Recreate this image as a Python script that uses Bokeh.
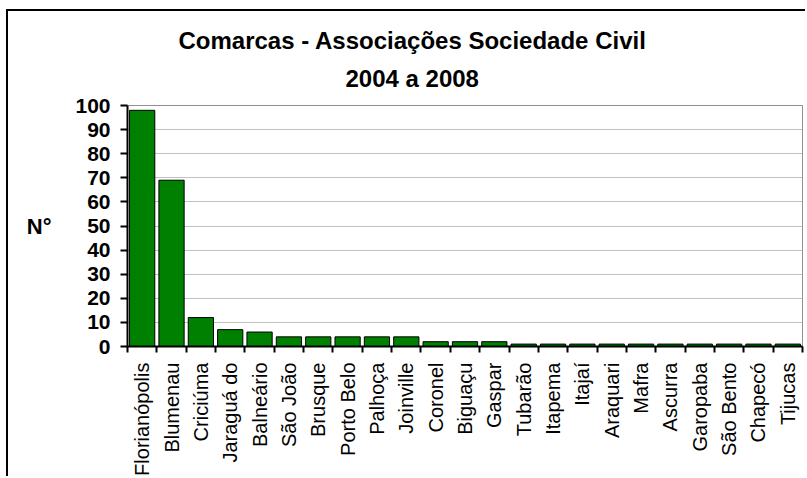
import math
from bokeh.plotting import figure
from bokeh.models import FixedTicker, Range1d, ColumnDataSource, Title
from bokeh.embed import file_html
from bokeh.resources import INLINE

# ---- data ----
comarcas = ["Florianópolis", "Blumenau", "Criciúma", "Jaraguá do", "Balneário",
            "São João", "Brusque", "Porto Belo", "Palhoça", "Joinville",
            "Coronel", "Biguaçu", "Gaspar", "Tubarão", "Itapema", "Itajaí",
            "Araquari", "Mafra", "Ascurra", "Garopaba", "São Bento", "Chapecó",
            "Tijucas"]
associacoes = [98, 69, 12, 7, 6, 4, 4, 4, 4, 4, 2, 2, 2, 1, 1, 1, 1, 1, 1, 1, 1, 1, 1]
y_ticks = [0, 10, 20, 30, 40, 50, 60, 70, 80, 90, 100]
title_lines = ["Comarcas - Associações Sociedade Civil", "2004 a 2008"]
y_label = "N°"

FONT = "Liberation Sans"
n = len(comarcas)
pos = [i + 0.5 for i in range(n)]
src = ColumnDataSource(dict(x=pos, top=associacoes, name=comarcas))

p = figure(width=799, height=467, output_backend="svg", toolbar_location=None,
           x_range=Range1d(0, n), y_range=Range1d(0, 100),
           min_border_left=119, min_border_right=5, min_border_top=94,
           min_border_bottom=130, margin=(9, 0, 0, 6),
           styles={"border-left": "2px solid black", "border-top": "2px solid black"})

p.vbar(x="x", top="top", width=0.86, source=src, fill_color="#008000",
       line_color="black", line_width=1)

# titles (line nearest the frame added first)
p.add_layout(Title(text=title_lines[1], align="left", offset=218, standoff=27,
                   text_font=FONT, text_font_style="bold", text_font_size="24px",
                   text_color="black"), "above")
p.add_layout(Title(text=title_lines[0], align="left", offset=51, standoff=-9,
                   text_font=FONT, text_font_style="bold", text_font_size="24px",
                   text_color="black"), "above")

# y axis
p.yaxis.ticker = FixedTicker(ticks=y_ticks)
p.yaxis.axis_line_width = 2
p.yaxis.axis_line_color = "black"
p.yaxis.major_tick_line_width = 2
p.yaxis.major_tick_line_color = "black"
p.yaxis.major_tick_in = 0
p.yaxis.major_tick_out = 7
p.yaxis.minor_tick_line_color = None
p.yaxis.major_label_text_font = FONT
p.yaxis.major_label_text_font_style = "bold"
p.yaxis.major_label_text_font_size = "21px"
p.yaxis.major_label_text_color = "black"
p.yaxis.major_label_standoff = 10
p.yaxis.axis_label = y_label
p.yaxis.axis_label_text_font = FONT
p.yaxis.axis_label_text_font_style = "bold"
p.yaxis.axis_label_text_font_size = "22px"
p.yaxis.axis_label_text_color = "black"
p.yaxis.axis_label_standoff = 21
ax = p.yaxis[0]
if "axis_label_orientation" in ax.properties():
    ax.axis_label_orientation = "horizontal"

# x axis: labels at category centres, ticks at boundaries
p.xaxis.ticker = FixedTicker(ticks=pos, minor_ticks=list(range(n + 1)))
p.xaxis.major_label_overrides = {pos[i]: comarcas[i] for i in range(n)}
p.xaxis.major_label_orientation = math.pi / 2
p.xaxis.major_tick_line_color = None
p.xaxis.minor_tick_line_color = "black"
p.xaxis.minor_tick_line_width = 2
p.xaxis.minor_tick_in = 0
p.xaxis.minor_tick_out = 6
p.xaxis.axis_line_width = 2
p.xaxis.axis_line_color = "black"
p.xaxis.major_label_text_font = FONT
p.xaxis.major_label_text_font_size = "20px"
p.xaxis.major_label_text_color = "black"
p.xaxis.major_label_standoff = 10

p.xgrid.grid_line_color = None
p.ygrid.grid_line_color = "#c0c0c0"
p.ygrid.grid_line_width = 1
p.outline_line_color = "#909090"
p.outline_line_width = 1

open("out.html", "w").write(file_html(p, INLINE))
